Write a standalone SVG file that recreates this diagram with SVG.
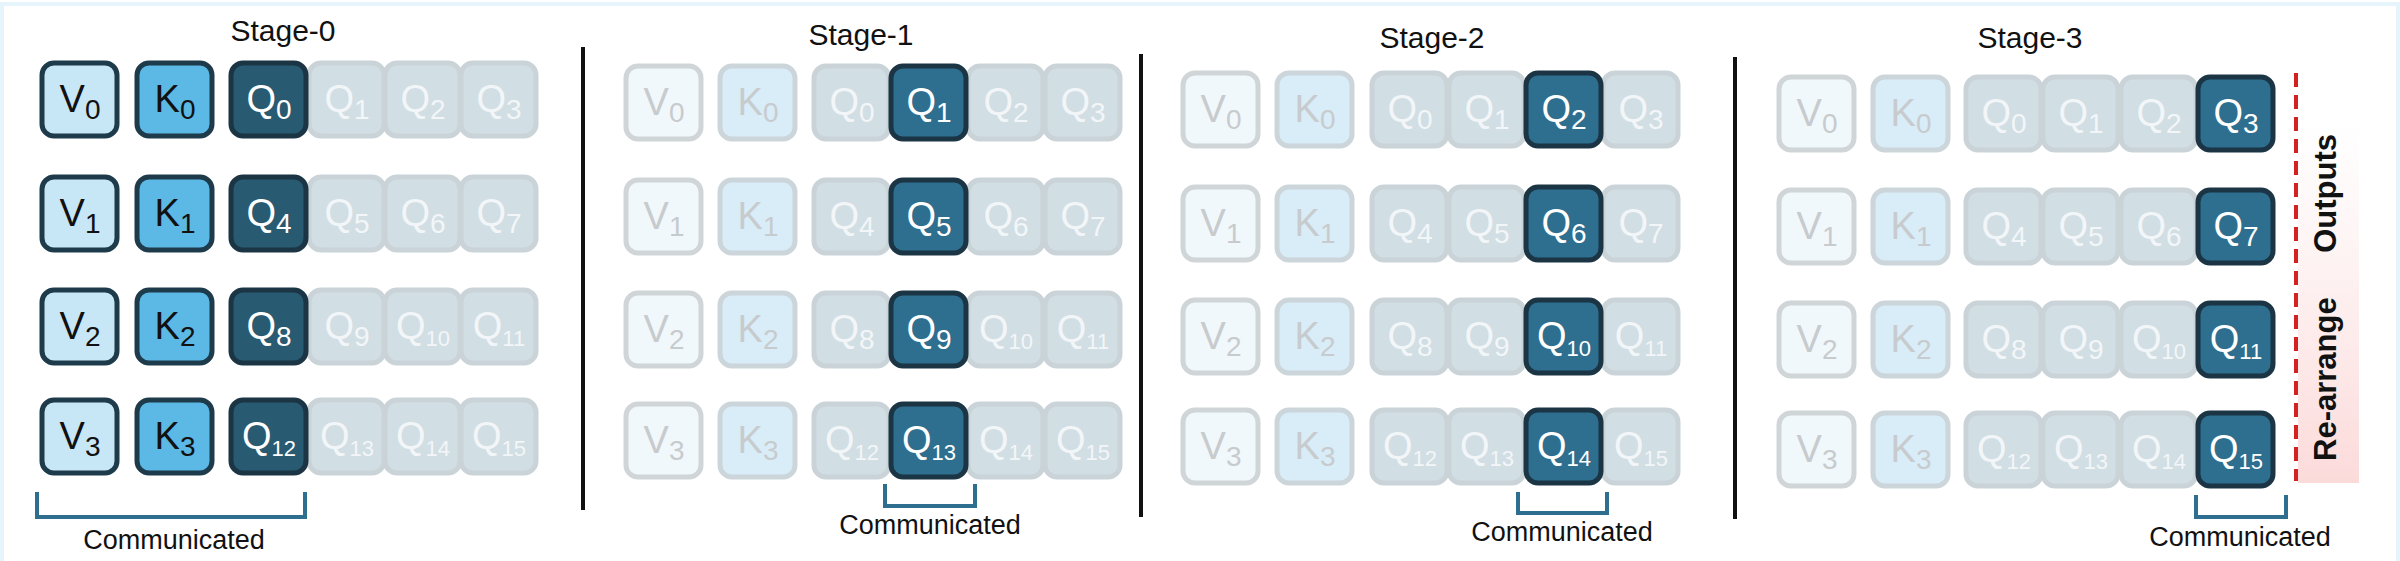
<svg xmlns="http://www.w3.org/2000/svg" width="2400" height="561" viewBox="0 0 2400 561">
<defs>
<linearGradient id="pink" x1="0" y1="0" x2="0" y2="1">
<stop offset="0" stop-color="#fde3e3" stop-opacity="0"/>
<stop offset="1" stop-color="#fcdada" stop-opacity="1"/>
</linearGradient>
</defs>
<style>
text{font-family:"Liberation Sans",Arial,sans-serif}
.b{stroke-width:5}
.va{fill:#c7e7f7;stroke:#1e3b4b}
.ka{fill:#5cb8e4;stroke:#1e3b4b}
.q0{fill:#285a72;stroke:#1b3545}
.qa{fill:#2e6f90;stroke:#1b3545}
.vf{fill:#f1f8fc;stroke:#d0d5d8}
.kf{fill:#d8edf8;stroke:#ccd5da}
.qf{fill:#d1dee4;stroke:#cad3d8}
.l{font-size:38px;text-anchor:middle}
.dk{fill:#111}
.wt{fill:#fff}
.fv{fill:#c8cbcd}
.fq{fill:#f3f6f8}
.h{font-size:30px;text-anchor:middle;fill:#111}
.c{font-size:27px;text-anchor:middle;fill:#111}
.br{fill:none;stroke:#2e6f90;stroke-width:4}
.sep{stroke:#111;stroke-width:4}
</style>
<rect x="2" y="4" width="2396" height="600" fill="none" stroke="#e6f4fb" stroke-width="4"/>

<g id="stage0">
<text class="h" x="283" y="41">Stage-0</text>
<g id="s0r0"><rect class="b va" x="42" y="63" width="75" height="73" rx="12"/><text class="l dk" x="80" y="112">V<tspan font-size="28" dy="7">0</tspan></text>
<rect class="b ka" x="137" y="63" width="75" height="73" rx="12"/><text class="l dk" x="175" y="112">K<tspan font-size="28" dy="7">0</tspan></text>
<rect class="b qf" x="309" y="63" width="75" height="73" rx="12"/><text class="l fq" x="347" y="112">Q<tspan font-size="28" dy="7">1</tspan></text>
<rect class="b qf" x="385" y="63" width="75" height="73" rx="12"/><text class="l fq" x="423" y="112">Q<tspan font-size="28" dy="7">2</tspan></text>
<rect class="b qf" x="461" y="63" width="75" height="73" rx="12"/><text class="l fq" x="499" y="112">Q<tspan font-size="28" dy="7">3</tspan></text>
<rect class="b q0" x="231" y="63" width="75" height="73" rx="12"/><text class="l wt" x="269" y="112">Q<tspan font-size="28" dy="7">0</tspan></text></g>
<g id="s0r1"><rect class="b va" x="42" y="177" width="75" height="73" rx="12"/><text class="l dk" x="80" y="226">V<tspan font-size="28" dy="7">1</tspan></text>
<rect class="b ka" x="137" y="177" width="75" height="73" rx="12"/><text class="l dk" x="175" y="226">K<tspan font-size="28" dy="7">1</tspan></text>
<rect class="b qf" x="309" y="177" width="75" height="73" rx="12"/><text class="l fq" x="347" y="226">Q<tspan font-size="28" dy="7">5</tspan></text>
<rect class="b qf" x="385" y="177" width="75" height="73" rx="12"/><text class="l fq" x="423" y="226">Q<tspan font-size="28" dy="7">6</tspan></text>
<rect class="b qf" x="461" y="177" width="75" height="73" rx="12"/><text class="l fq" x="499" y="226">Q<tspan font-size="28" dy="7">7</tspan></text>
<rect class="b q0" x="231" y="177" width="75" height="73" rx="12"/><text class="l wt" x="269" y="226">Q<tspan font-size="28" dy="7">4</tspan></text></g>
<g id="s0r2"><rect class="b va" x="42" y="290" width="75" height="73" rx="12"/><text class="l dk" x="80" y="339">V<tspan font-size="28" dy="7">2</tspan></text>
<rect class="b ka" x="137" y="290" width="75" height="73" rx="12"/><text class="l dk" x="175" y="339">K<tspan font-size="28" dy="7">2</tspan></text>
<rect class="b qf" x="309" y="290" width="75" height="73" rx="12"/><text class="l fq" x="347" y="339">Q<tspan font-size="28" dy="7">9</tspan></text>
<rect class="b qf" x="385" y="290" width="75" height="73" rx="12"/><text class="l fq" x="423" y="339">Q<tspan font-size="22" dy="7">10</tspan></text>
<rect class="b qf" x="461" y="290" width="75" height="73" rx="12"/><text class="l fq" x="499" y="339">Q<tspan font-size="22" dy="7">11</tspan></text>
<rect class="b q0" x="231" y="290" width="75" height="73" rx="12"/><text class="l wt" x="269" y="339">Q<tspan font-size="28" dy="7">8</tspan></text></g>
<g id="s0r3"><rect class="b va" x="42" y="400" width="75" height="73" rx="12"/><text class="l dk" x="80" y="449">V<tspan font-size="28" dy="7">3</tspan></text>
<rect class="b ka" x="137" y="400" width="75" height="73" rx="12"/><text class="l dk" x="175" y="449">K<tspan font-size="28" dy="7">3</tspan></text>
<rect class="b qf" x="309" y="400" width="75" height="73" rx="12"/><text class="l fq" x="347" y="449">Q<tspan font-size="22" dy="7">13</tspan></text>
<rect class="b qf" x="385" y="400" width="75" height="73" rx="12"/><text class="l fq" x="423" y="449">Q<tspan font-size="22" dy="7">14</tspan></text>
<rect class="b qf" x="461" y="400" width="75" height="73" rx="12"/><text class="l fq" x="499" y="449">Q<tspan font-size="22" dy="7">15</tspan></text>
<rect class="b q0" x="231" y="400" width="75" height="73" rx="12"/><text class="l wt" x="269" y="449">Q<tspan font-size="22" dy="7">12</tspan></text></g>
<text class="c" x="174" y="549">Communicated</text>
</g>

<g id="stage1">
<text class="h" x="861" y="45">Stage-1</text>
<g id="s1r0"><rect class="b vf" x="626" y="66" width="75" height="73" rx="12"/><text class="l fv" x="664" y="115">V<tspan font-size="28" dy="7">0</tspan></text>
<rect class="b kf" x="720" y="66" width="75" height="73" rx="12"/><text class="l fv" x="758" y="115">K<tspan font-size="28" dy="7">0</tspan></text>
<rect class="b qf" x="814" y="66" width="75" height="73" rx="12"/><text class="l fq" x="852" y="115">Q<tspan font-size="28" dy="7">0</tspan></text>
<rect class="b qf" x="968" y="66" width="75" height="73" rx="12"/><text class="l fq" x="1006" y="115">Q<tspan font-size="28" dy="7">2</tspan></text>
<rect class="b qf" x="1045" y="66" width="75" height="73" rx="12"/><text class="l fq" x="1083" y="115">Q<tspan font-size="28" dy="7">3</tspan></text>
<rect class="b qa" x="891" y="66" width="75" height="73" rx="12"/><text class="l wt" x="929" y="115">Q<tspan font-size="28" dy="7">1</tspan></text></g>
<g id="s1r1"><rect class="b vf" x="626" y="180" width="75" height="73" rx="12"/><text class="l fv" x="664" y="229">V<tspan font-size="28" dy="7">1</tspan></text>
<rect class="b kf" x="720" y="180" width="75" height="73" rx="12"/><text class="l fv" x="758" y="229">K<tspan font-size="28" dy="7">1</tspan></text>
<rect class="b qf" x="814" y="180" width="75" height="73" rx="12"/><text class="l fq" x="852" y="229">Q<tspan font-size="28" dy="7">4</tspan></text>
<rect class="b qf" x="968" y="180" width="75" height="73" rx="12"/><text class="l fq" x="1006" y="229">Q<tspan font-size="28" dy="7">6</tspan></text>
<rect class="b qf" x="1045" y="180" width="75" height="73" rx="12"/><text class="l fq" x="1083" y="229">Q<tspan font-size="28" dy="7">7</tspan></text>
<rect class="b qa" x="891" y="180" width="75" height="73" rx="12"/><text class="l wt" x="929" y="229">Q<tspan font-size="28" dy="7">5</tspan></text></g>
<g id="s1r2"><rect class="b vf" x="626" y="293" width="75" height="73" rx="12"/><text class="l fv" x="664" y="342">V<tspan font-size="28" dy="7">2</tspan></text>
<rect class="b kf" x="720" y="293" width="75" height="73" rx="12"/><text class="l fv" x="758" y="342">K<tspan font-size="28" dy="7">2</tspan></text>
<rect class="b qf" x="814" y="293" width="75" height="73" rx="12"/><text class="l fq" x="852" y="342">Q<tspan font-size="28" dy="7">8</tspan></text>
<rect class="b qf" x="968" y="293" width="75" height="73" rx="12"/><text class="l fq" x="1006" y="342">Q<tspan font-size="22" dy="7">10</tspan></text>
<rect class="b qf" x="1045" y="293" width="75" height="73" rx="12"/><text class="l fq" x="1083" y="342">Q<tspan font-size="22" dy="7">11</tspan></text>
<rect class="b qa" x="891" y="293" width="75" height="73" rx="12"/><text class="l wt" x="929" y="342">Q<tspan font-size="28" dy="7">9</tspan></text></g>
<g id="s1r3"><rect class="b vf" x="626" y="404" width="75" height="73" rx="12"/><text class="l fv" x="664" y="453">V<tspan font-size="28" dy="7">3</tspan></text>
<rect class="b kf" x="720" y="404" width="75" height="73" rx="12"/><text class="l fv" x="758" y="453">K<tspan font-size="28" dy="7">3</tspan></text>
<rect class="b qf" x="814" y="404" width="75" height="73" rx="12"/><text class="l fq" x="852" y="453">Q<tspan font-size="22" dy="7">12</tspan></text>
<rect class="b qf" x="968" y="404" width="75" height="73" rx="12"/><text class="l fq" x="1006" y="453">Q<tspan font-size="22" dy="7">14</tspan></text>
<rect class="b qf" x="1045" y="404" width="75" height="73" rx="12"/><text class="l fq" x="1083" y="453">Q<tspan font-size="22" dy="7">15</tspan></text>
<rect class="b qa" x="891" y="404" width="75" height="73" rx="12"/><text class="l wt" x="929" y="453">Q<tspan font-size="22" dy="7">13</tspan></text></g>
<text class="c" x="930" y="534">Communicated</text>
</g>

<g id="stage2">
<text class="h" x="1432" y="48">Stage-2</text>
<g id="s2r0"><rect class="b vf" x="1183" y="73" width="75" height="73" rx="12"/><text class="l fv" x="1221" y="122">V<tspan font-size="28" dy="7">0</tspan></text>
<rect class="b kf" x="1277" y="73" width="75" height="73" rx="12"/><text class="l fv" x="1315" y="122">K<tspan font-size="28" dy="7">0</tspan></text>
<rect class="b qf" x="1372" y="73" width="75" height="73" rx="12"/><text class="l fq" x="1410" y="122">Q<tspan font-size="28" dy="7">0</tspan></text>
<rect class="b qf" x="1449" y="73" width="75" height="73" rx="12"/><text class="l fq" x="1487" y="122">Q<tspan font-size="28" dy="7">1</tspan></text>
<rect class="b qf" x="1603" y="73" width="75" height="73" rx="12"/><text class="l fq" x="1641" y="122">Q<tspan font-size="28" dy="7">3</tspan></text>
<rect class="b qa" x="1526" y="73" width="75" height="73" rx="12"/><text class="l wt" x="1564" y="122">Q<tspan font-size="28" dy="7">2</tspan></text></g>
<g id="s2r1"><rect class="b vf" x="1183" y="187" width="75" height="73" rx="12"/><text class="l fv" x="1221" y="236">V<tspan font-size="28" dy="7">1</tspan></text>
<rect class="b kf" x="1277" y="187" width="75" height="73" rx="12"/><text class="l fv" x="1315" y="236">K<tspan font-size="28" dy="7">1</tspan></text>
<rect class="b qf" x="1372" y="187" width="75" height="73" rx="12"/><text class="l fq" x="1410" y="236">Q<tspan font-size="28" dy="7">4</tspan></text>
<rect class="b qf" x="1449" y="187" width="75" height="73" rx="12"/><text class="l fq" x="1487" y="236">Q<tspan font-size="28" dy="7">5</tspan></text>
<rect class="b qf" x="1603" y="187" width="75" height="73" rx="12"/><text class="l fq" x="1641" y="236">Q<tspan font-size="28" dy="7">7</tspan></text>
<rect class="b qa" x="1526" y="187" width="75" height="73" rx="12"/><text class="l wt" x="1564" y="236">Q<tspan font-size="28" dy="7">6</tspan></text></g>
<g id="s2r2"><rect class="b vf" x="1183" y="300" width="75" height="73" rx="12"/><text class="l fv" x="1221" y="349">V<tspan font-size="28" dy="7">2</tspan></text>
<rect class="b kf" x="1277" y="300" width="75" height="73" rx="12"/><text class="l fv" x="1315" y="349">K<tspan font-size="28" dy="7">2</tspan></text>
<rect class="b qf" x="1372" y="300" width="75" height="73" rx="12"/><text class="l fq" x="1410" y="349">Q<tspan font-size="28" dy="7">8</tspan></text>
<rect class="b qf" x="1449" y="300" width="75" height="73" rx="12"/><text class="l fq" x="1487" y="349">Q<tspan font-size="28" dy="7">9</tspan></text>
<rect class="b qf" x="1603" y="300" width="75" height="73" rx="12"/><text class="l fq" x="1641" y="349">Q<tspan font-size="22" dy="7">11</tspan></text>
<rect class="b qa" x="1526" y="300" width="75" height="73" rx="12"/><text class="l wt" x="1564" y="349">Q<tspan font-size="22" dy="7">10</tspan></text></g>
<g id="s2r3"><rect class="b vf" x="1183" y="410" width="75" height="73" rx="12"/><text class="l fv" x="1221" y="459">V<tspan font-size="28" dy="7">3</tspan></text>
<rect class="b kf" x="1277" y="410" width="75" height="73" rx="12"/><text class="l fv" x="1315" y="459">K<tspan font-size="28" dy="7">3</tspan></text>
<rect class="b qf" x="1372" y="410" width="75" height="73" rx="12"/><text class="l fq" x="1410" y="459">Q<tspan font-size="22" dy="7">12</tspan></text>
<rect class="b qf" x="1449" y="410" width="75" height="73" rx="12"/><text class="l fq" x="1487" y="459">Q<tspan font-size="22" dy="7">13</tspan></text>
<rect class="b qf" x="1603" y="410" width="75" height="73" rx="12"/><text class="l fq" x="1641" y="459">Q<tspan font-size="22" dy="7">15</tspan></text>
<rect class="b qa" x="1526" y="410" width="75" height="73" rx="12"/><text class="l wt" x="1564" y="459">Q<tspan font-size="22" dy="7">14</tspan></text></g>
<text class="c" x="1562" y="541">Communicated</text>
</g>

<g id="stage3">
<text class="h" x="2030" y="48">Stage-3</text>
<g id="s3r0"><rect class="b vf" x="1779" y="77" width="75" height="73" rx="12"/><text class="l fv" x="1817" y="126">V<tspan font-size="28" dy="7">0</tspan></text>
<rect class="b kf" x="1873" y="77" width="75" height="73" rx="12"/><text class="l fv" x="1911" y="126">K<tspan font-size="28" dy="7">0</tspan></text>
<rect class="b qf" x="1966" y="77" width="75" height="73" rx="12"/><text class="l fq" x="2004" y="126">Q<tspan font-size="28" dy="7">0</tspan></text>
<rect class="b qf" x="2043" y="77" width="75" height="73" rx="12"/><text class="l fq" x="2081" y="126">Q<tspan font-size="28" dy="7">1</tspan></text>
<rect class="b qf" x="2121" y="77" width="75" height="73" rx="12"/><text class="l fq" x="2159" y="126">Q<tspan font-size="28" dy="7">2</tspan></text>
<rect class="b qa" x="2198" y="77" width="75" height="73" rx="12"/><text class="l wt" x="2236" y="126">Q<tspan font-size="28" dy="7">3</tspan></text></g>
<g id="s3r1"><rect class="b vf" x="1779" y="190" width="75" height="73" rx="12"/><text class="l fv" x="1817" y="239">V<tspan font-size="28" dy="7">1</tspan></text>
<rect class="b kf" x="1873" y="190" width="75" height="73" rx="12"/><text class="l fv" x="1911" y="239">K<tspan font-size="28" dy="7">1</tspan></text>
<rect class="b qf" x="1966" y="190" width="75" height="73" rx="12"/><text class="l fq" x="2004" y="239">Q<tspan font-size="28" dy="7">4</tspan></text>
<rect class="b qf" x="2043" y="190" width="75" height="73" rx="12"/><text class="l fq" x="2081" y="239">Q<tspan font-size="28" dy="7">5</tspan></text>
<rect class="b qf" x="2121" y="190" width="75" height="73" rx="12"/><text class="l fq" x="2159" y="239">Q<tspan font-size="28" dy="7">6</tspan></text>
<rect class="b qa" x="2198" y="190" width="75" height="73" rx="12"/><text class="l wt" x="2236" y="239">Q<tspan font-size="28" dy="7">7</tspan></text></g>
<g id="s3r2"><rect class="b vf" x="1779" y="303" width="75" height="73" rx="12"/><text class="l fv" x="1817" y="352">V<tspan font-size="28" dy="7">2</tspan></text>
<rect class="b kf" x="1873" y="303" width="75" height="73" rx="12"/><text class="l fv" x="1911" y="352">K<tspan font-size="28" dy="7">2</tspan></text>
<rect class="b qf" x="1966" y="303" width="75" height="73" rx="12"/><text class="l fq" x="2004" y="352">Q<tspan font-size="28" dy="7">8</tspan></text>
<rect class="b qf" x="2043" y="303" width="75" height="73" rx="12"/><text class="l fq" x="2081" y="352">Q<tspan font-size="28" dy="7">9</tspan></text>
<rect class="b qf" x="2121" y="303" width="75" height="73" rx="12"/><text class="l fq" x="2159" y="352">Q<tspan font-size="22" dy="7">10</tspan></text>
<rect class="b qa" x="2198" y="303" width="75" height="73" rx="12"/><text class="l wt" x="2236" y="352">Q<tspan font-size="22" dy="7">11</tspan></text></g>
<g id="s3r3"><rect class="b vf" x="1779" y="413" width="75" height="73" rx="12"/><text class="l fv" x="1817" y="462">V<tspan font-size="28" dy="7">3</tspan></text>
<rect class="b kf" x="1873" y="413" width="75" height="73" rx="12"/><text class="l fv" x="1911" y="462">K<tspan font-size="28" dy="7">3</tspan></text>
<rect class="b qf" x="1966" y="413" width="75" height="73" rx="12"/><text class="l fq" x="2004" y="462">Q<tspan font-size="22" dy="7">12</tspan></text>
<rect class="b qf" x="2043" y="413" width="75" height="73" rx="12"/><text class="l fq" x="2081" y="462">Q<tspan font-size="22" dy="7">13</tspan></text>
<rect class="b qf" x="2121" y="413" width="75" height="73" rx="12"/><text class="l fq" x="2159" y="462">Q<tspan font-size="22" dy="7">14</tspan></text>
<rect class="b qa" x="2198" y="413" width="75" height="73" rx="12"/><text class="l wt" x="2236" y="462">Q<tspan font-size="22" dy="7">15</tspan></text></g>
<text class="c" x="2240" y="546">Communicated</text>
</g>

<g id="rearrange">
<rect x="2298" y="120" width="61" height="363" fill="url(#pink)"/>
<line x1="2296" y1="73" x2="2296" y2="481" stroke="#d42222" stroke-width="4" stroke-dasharray="14 8"/>
<text transform="translate(2336,461) rotate(-90)" font-size="31" font-weight="bold" fill="#111">Re-arrange</text>
<text transform="translate(2336,134) rotate(-90)" font-size="31" font-weight="bold" fill="#111" text-anchor="end">Outputs</text>
</g>

<g id="connectors">
<line class="sep" x1="583" y1="47" x2="583" y2="510"/>
<line class="sep" x1="1141" y1="54" x2="1141" y2="517"/>
<line class="sep" x1="1735" y1="57" x2="1735" y2="519"/>
<path class="br" d="M37 492 V517 H305 V492"/>
<path class="br" d="M885 484 V506 H975 V484"/>
<path class="br" d="M1518 492 V513 H1607 V492"/>
<path class="br" d="M2196 495 V517 H2286 V495"/>
</g>
</svg>
